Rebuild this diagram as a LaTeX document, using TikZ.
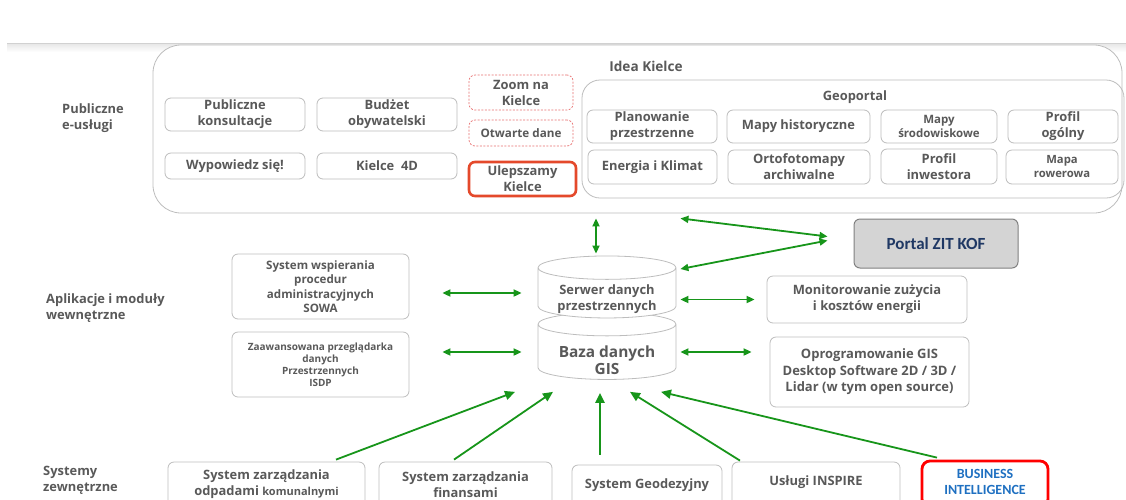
\documentclass[tikz,border=0pt]{standalone}
\usepackage{fontspec}
\setmainfont{Open Sans}
\newfontfamily\calibri{Carlito}
\usetikzlibrary{shapes.geometric,arrows.meta,calc}
\definecolor{txtgray}{HTML}{595959}
\definecolor{boxgray}{HTML}{BDBDBD}
\definecolor{linkgreen}{HTML}{17951A}
\definecolor{dashred}{HTML}{E87070}
\definecolor{ulepred}{HTML}{E4492B}
\definecolor{biblue}{HTML}{1F70C1}
\definecolor{portalnavy}{HTML}{1F3864}

\begin{document}
\begin{tikzpicture}[x=1pt,y=-1pt,
  font=\fontsize{12.9}{16}\selectfont\bfseries, text=txtgray,
  box/.style={draw=boxgray, line width=0.8pt, rounded corners=6pt, align=center, inner sep=0pt},
  dashbox/.style={box, draw=dashred, line width=0.7pt, dash pattern=on 2pt off 1.5pt},
  lbl/.style={align=left, anchor=west, inner sep=0pt},
  dbase/.style={cylinder, shape border rotate=90, aspect=0.29, draw=boxgray, line width=0.8pt,
                fill=white, minimum width=138, inner sep=0pt, align=center,
                font=\fontsize{10.5}{14}\selectfont\bfseries},
  link/.style={draw=linkgreen, line width=1.8pt, {Triangle[length=8pt,width=7pt]}-{Triangle[length=8pt,width=7pt]}},
  uplink/.style={draw=linkgreen, line width=1.8pt, -{Triangle[length=10pt,width=9pt]}}]
\useasboundingbox (0,0) rectangle (1126,499);
\clip (0,0) rectangle (1126,499);

% top bar
\shade[top color=black!10, bottom color=white] (7,43) rectangle (1126,52);
\draw[black!18, line width=0.8pt] (7,43) -- (1126,43);

% left labels
\node[lbl] (lpub) at (62,118) {Publiczne\\e-usługi};
\node[lbl] (lapp) at (46,308) {Aplikacje i moduły\\wewnętrzne};
\node[lbl] (lsys) at (43,480) {Systemy\\zewnętrzne};

% Idea Kielce
\node[box, fill=white, rounded corners=28pt, minimum width=969, minimum height=168] (idea) at (637.5,129) {};
\node[font=\fontsize{13.6}{16}\selectfont\bfseries] (ideat) at (646,66) {Idea Kielce};
\node[box, minimum width=140, minimum height=33] (konsult) at (235,114.5) {Publiczne\\konsultacje};
\node[box, minimum width=140, minimum height=33] (budzet) at (387,114.5) {Budżet\\obywatelski};
\node[box, minimum width=140, minimum height=26] (wypow) at (235,166) {Wypowiedz się!};
\node[box, minimum width=140, minimum height=26] (k4d) at (387,166) {Kielce~~4D};
\node[dashbox, minimum width=104, minimum height=35] (zoom) at (521,92.5) {Zoom na\\Kielce};
\node[dashbox, minimum width=104, minimum height=26, font=\fontsize{11.7}{14}\selectfont\bfseries] (otw) at (521,133) {Otwarte dane};
\node[box, draw=ulepred, line width=2.6pt, minimum width=107, minimum height=34] (ulep) at (522.5,179) {Ulepszamy\\Kielce};

% Geoportal
\node[box, rounded corners=18pt, minimum width=542, minimum height=118] (geo) at (853,139) {};
\node (geot) at (855,97) {Geoportal};
\node[box, minimum width=130, minimum height=33] (plan) at (652,126.5) {Planowanie\\przestrzenne};
\node[box, minimum width=143, minimum height=33] (hist) at (798.5,126.5) {Mapy historyczne};
\node[box, minimum width=116, minimum height=33, font=\fontsize{11.5}{14}\selectfont\bfseries] (srod) at (939,126.5) {Mapy\\środowiskowe};
\node[box, minimum width=110, minimum height=33] (ogol) at (1063,126.5) {Profil\\ogólny};
\node[box, minimum width=129, minimum height=34] (energ) at (652.5,167) {Energia i Klimat};
\node[box, minimum width=142, minimum height=34] (orto) at (799,167) {Ortofotomapy\\archiwalne};
\node[box, minimum width=116, minimum height=35] (inwest) at (939,166.5) {Profil\\inwestora};
\node[box, minimum width=112, minimum height=34, font=\fontsize{11.3}{14}\selectfont\bfseries] (rower) at (1062,167) {Mapa\\rowerowa};

% portal
\node[box, draw=black!50, fill=black!17, line width=1pt, minimum width=164, minimum height=49,
      text=portalnavy, font=\calibri\fontsize{17}{19}\selectfont\bfseries] (portal) at (936,243.5) {Portal ZIT KOF};

% bazy danych
\node[dbase, minimum height=67] (baza) at (607,352) {\phantom{Serwer danych}\\\phantom{przestrzennych}};
\node[font=\fontsize{15.4}{16.5}\selectfont\bfseries, align=center] (bazat) at (607,360) {Baza danych\\GIS};
\node[dbase, minimum height=62] (srv) at (607,293) {\phantom{Serwer danych}\\\phantom{przestrzennych}};
\node[align=center] (srvt) at (607,299) {Serwer danych\\przestrzennych};

% aplikacje
\node[box, minimum width=177, minimum height=65, font=\fontsize{11.6}{14.3}\selectfont\bfseries] (sowa) at (320.5,286.5) {System wspierania\\procedur\\administracyjnych\\SOWA};
\node[box, minimum width=177, minimum height=65, font=\fontsize{10}{12}\selectfont\bfseries] (isdp) at (320.5,364.5) {Zaawansowana przeglądarka\\danych\\Przestrzennych\\ISDP};
\node[box, minimum width=200, minimum height=47] (monit) at (867,299.5) {Monitorowanie zużycia\\i kosztów energii};
\node[box, minimum width=199, minimum height=70, font=\fontsize{13}{16.5}\selectfont\bfseries] (oprog) at (869.5,372) {Oprogramowanie GIS\\Desktop Software 2D / 3D /\\Lidar (w tym open source)};

% systemy zewnetrzne
\node[box, minimum width=197, minimum height=45] (odpady) at (266.5,484.5) {System zarządzania\\odpadami {\fontsize{11}{16}\selectfont komunalnymi}};
\node[box, minimum width=173, minimum height=45] (finanse) at (465.5,484.5) {System zarządzania\\finansami};
\node[box, minimum width=150, minimum height=42] (geodez) at (647,486) {System Geodezyjny\\[-11pt]};
\node[box, minimum width=168, minimum height=45] (inspire) at (816,484.5) {Usługi INSPIRE\\[-9pt]};
\node[box, draw=red, line width=2.8pt, rounded corners=8pt, minimum width=126, minimum height=46,
      text=biblue, font=\calibri\fontsize{14}{16}\selectfont\bfseries] (bi) at (985,484) {BUSINESS\\INTELLIGENCE\\[-11pt]};

% polaczenia
\draw[link] ([xshift=-11pt]srv.north |- idea.south) ++(0,5) -- ([xshift=-11pt,yshift=2pt]srv.north);
\draw[link] ($(idea.south -| srv.east)+(4,5)$) -- ($(portal.west)+(-26,-7)$);
\draw[link] ($(srv.east)+(4,-24)$) -- ($(portal.west)+(-26,-3)$);
\draw[link, shorten <=33pt, shorten >=16pt] (sowa.east |- srv.west) -- (srv.west);
\draw[link, shorten <=4pt, shorten >=12pt] (srv.east |- monit.west) -- (monit.west);
\draw[link, shorten <=33pt, shorten >=16pt] (isdp.east |- baza.west) -- (baza.west);
\draw[link, shorten <=4pt, shorten >=18pt] (baza.east) -- (baza.east -| oprog.west);
\draw[uplink] ($(odpady.north)+(69.5,-2)$) -- ($(baza.south)+(-92,12)$);
\draw[uplink] ($(finanse.north)+(-11.5,-2)$) -- ($(baza.south)+(-54,12)$);
\draw[uplink, line width=2.6pt] ($(geodez.north)+(-47,-10)$) -- ($(baza.south)+(-7,13)$);
\draw[uplink] ($(inspire.north)+(-76,-1)$) -- ($(baza.south)+(23,12)$);
\draw[uplink] ($(bi.north)+(-48,-2)$) -- ($(baza.south)+(54,12)$);
\end{tikzpicture}
\end{document}
